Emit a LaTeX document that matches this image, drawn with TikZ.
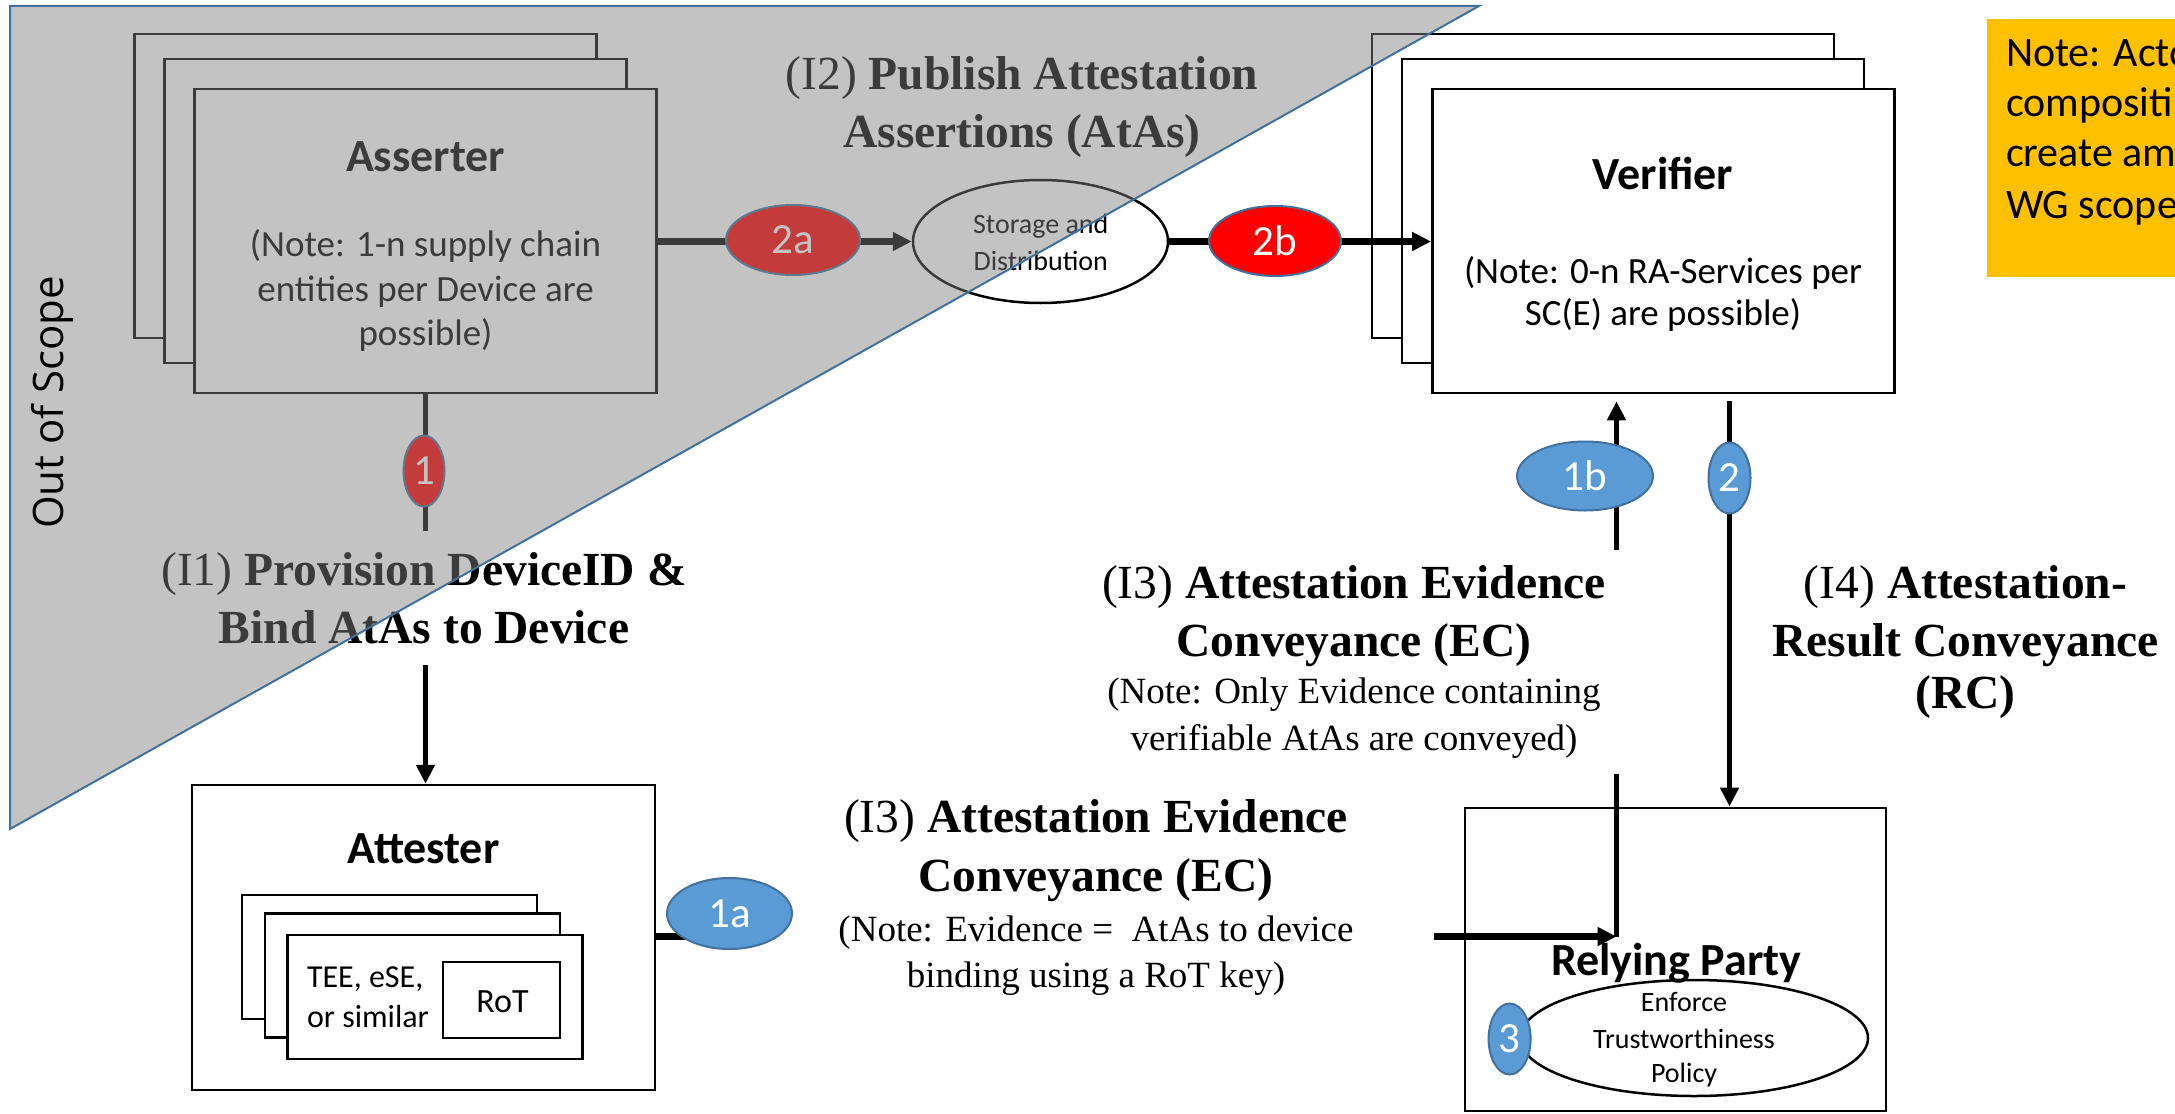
\documentclass[tikz,border=0pt]{standalone}
\usepackage{fontspec}
\setmainfont{Liberation Serif}
\newfontfamily\calfont{Carlito}
\newfontfamily\scopefont{Open Sans}
\usetikzlibrary{shapes.geometric,arrows.meta}
\definecolor{markblue}{HTML}{5B9BD5}
\definecolor{markedge}{HTML}{41719C}
\definecolor{markred}{HTML}{FF0000}
\definecolor{noteamber}{HTML}{FFC000}
\definecolor{scopeline}{HTML}{41719C}
\newcommand{\fsize}[2]{\fontsize{#1}{#2}\selectfont}

\tikzset{
  txt/.style={inner sep=0pt, outer sep=0pt},
  boxline/.style={draw=black, line width=2.5pt, fill=white, inner sep=0pt},
  stackbox/.style={boxline, minimum width=462pt, minimum height=304pt},
  teebox/.style={boxline, minimum width=295pt, minimum height=124pt},
  badge/.style={ellipse, draw=markedge, line width=2pt, text=white,
    font=\calfont\fsize{43}{50}, inner sep=0pt},
  bluebadge/.style={badge, fill=markblue},
  redbadge/.style={badge, fill=markred},
  boxtitle/.style={txt, font=\calfont\bfseries\fsize{46}{55}},
  boxnote/.style={txt, font=\calfont\fsize{37}{45}},
  smalltxt/.style={txt, font=\calfont\fsize{28}{36}},
  ambertxt/.style={txt, anchor=base west, font=\calfont\fsize{42}{50}},
  iface/.style={align=center, font=\fsize{47.5}{58.5}, inner sep=2pt},
  wire/.style={draw=black, line width=5.5pt},
  heavywire/.style={draw=black, line width=7pt},
  arrowtip/.style={-{Triangle[length=19pt,width=18pt]}},
}

\begin{document}
\begin{tikzpicture}[x=1pt,y=-1pt]
\clip (0,0) rectangle (2175,1113);
\fill[white] (0,0) rectangle (2175,1113);

% Asserter: stacked supply chain entities
\node[stackbox] (asrB) at (365.5,186) {};
\node[stackbox] (asrM) at (395.5,211) {};
\node[stackbox] (asrF) at (425.5,241) {};
\node[boxtitle, anchor=base] (asrT) at (425.5,171.4) {Asserter};
\node[boxnote, anchor=base] (asrN1) at (425.5,256.4) {(Note: 1-n supply chain};
\node[boxnote, anchor=base] (asrN2) at (425.5,301) {entities per Device are};
\node[boxnote, anchor=base] (asrN3) at (425.5,345.7) {possible)};

% Verifier: stacked RA services
\node[stackbox] (verB) at (1602.8,186) {};
\node[stackbox] (verM) at (1633,211) {};
\node[stackbox] (verF) at (1663.3,241) {};
\node[boxtitle, anchor=base] (verT) at (1663,189) {Verifier};
\node[boxnote, anchor=base] (verN1) at (1663,283) {(Note: 0-n RA-Services per};
\node[boxnote, anchor=base] (verN2) at (1663,325) {SC(E) are possible)};

% amber side note, running off the right edge
\node[fill=noteamber, anchor=north west, minimum width=250pt, minimum height=258pt, inner sep=0pt] (amber) at (1987,19) {};
\node[ambertxt] (amb1) at (2006,66.7) {Note: Acto};
\node[ambertxt] (amb2) at (2006,116.5) {compositi};
\node[ambertxt] (amb3) at (2006,166.5) {create am};
\node[ambertxt] (amb4) at (2006,218) {WG scope};

% storage and distribution
\node[ellipse, boxline, minimum width=255pt, minimum height=123pt] (stor) at (1040.5,241.5) {};

% Attester with TEE stack and RoT
\node[boxline, minimum width=463pt, minimum height=305pt] (att) at (423.5,937.5) {};
\node[teebox] (teeB) at (389.3,957.2) {};
\node[teebox] (teeM) at (412.5,975.6) {};
\node[teebox] (teeF) at (434.8,996.9) {};
\node[boxline, minimum width=117pt, minimum height=76pt] (rot) at (501.5,999.9) {};

% Relying Party with policy
\node[draw=black, line width=2pt, fill=white, inner sep=0pt, minimum width=421pt, minimum height=303.5pt] (rp) at (1675.7,959.3) {};
\node[ellipse, boxline, minimum width=348pt, minimum height=116pt] (pol) at (1694,1038) {};

% connectors
\coordinate (bend) at (1616.5,936.5);
\draw[wire, arrowtip] (asrF.south) -- (asrF.south |- att.north);
\draw[heavywire, arrowtip] (asrF.east |- stor.west) -- (stor.west);
\draw[heavywire, arrowtip] (stor.east) -- (stor.east -| verF.west);
\draw[heavywire, arrowtip] (att.east |- bend) -- (bend);
\draw[wire, arrowtip, shorten >=7pt] (bend) -- (bend |- verF.south);
\draw[wire, arrowtip, shorten <=7pt] ([xshift=66.2pt]verF.south) -- ([xshift=66.2pt]verF.south |- rp.north);

% interface labels
\node[iface, fill=white, minimum width=560pt, minimum height=134pt] (i1) at (424,598)
  {(I1) \textbf{Provision DeviceID \&}\\\textbf{Bind AtAs to Device}};
\node[iface] (i2) at (1022,107)
  {(I2) \textbf{Publish Attestation}\\\textbf{Assertions (AtAs)}};
\node[iface, fill=white, minimum width=540pt, minimum height=224pt] (i3a) at (1354,662)
  {(I3) \textbf{Attestation Evidence}\\\textbf{Conveyance (EC)}\\[-12pt]{\fsize{37}{47}(Note: Only Evidence containing}\\[-11pt]{\fsize{37}{47}verifiable AtAs are conveyed)}};
\node[iface, fill=white, minimum width=676pt, minimum height=200pt] (i3b) at (1096,897.5)
  {(I3) \textbf{Attestation Evidence}\\\textbf{Conveyance (EC)}\\[-8.7pt]{\fsize{37}{47}(Note: Evidence = \ AtAs to device}\\[-12.7pt]{\fsize{37}{47}binding using a RoT key)}};
\node[iface] (i4) at (1965.5,642)
  {(I4) \textbf{Attestation-}\\\textbf{Result Conveyance}\\[-7pt]\textbf{(RC)}};

% step badges
\node[redbadge, minimum width=41pt, minimum height=71pt] (m1) at (424,471) {1};
\node[redbadge, minimum width=134pt, minimum height=70pt] (m2a) at (793,240) {2a};
\node[redbadge, minimum width=132pt, minimum height=70pt] (m2b) at (1275,241) {2b};
\node[bluebadge, minimum width=125pt, minimum height=71pt] (m1a) at (729.5,913.5) {1a};
\node[bluebadge, minimum width=136pt, minimum height=69pt] (m1b) at (1585,476) {1b};
\node[bluebadge, minimum width=42pt, minimum height=71pt] (m2) at (1729.5,478) {2};

% texts inside shapes
\node[smalltxt, anchor=base] (stor1) at (1040.7,233) {Storage and};
\node[smalltxt, anchor=base] (stor2) at (1040.7,270) {Distribution};
\node[boxtitle, anchor=base] (attT) at (423.5,863.4) {Attester};
\node[txt, anchor=base, font=\calfont\fsize{34}{40}] (rotT) at (502.5,1012) {RoT};
\node[txt, anchor=base west, font=\calfont\fsize{32}{40}] (tee1) at (307,987.6) {TEE, eSE,};
\node[txt, anchor=base west, font=\calfont\fsize{32}{40}] (tee2) at (307,1027.8) {or similar};
\node[boxtitle, anchor=base] (rpT) at (1676,975) {Relying Party};
\node[smalltxt, anchor=base] (pol1) at (1684,1011.4) {Enforce};
\node[smalltxt, anchor=base] (pol2) at (1684,1048) {Trustworthiness};
\node[smalltxt, anchor=base] (pol3) at (1684,1082.7) {Policy};
\node[bluebadge, minimum width=42pt, minimum height=71pt] (m3) at (1509.6,1039) {3};

% out-of-scope region
\fill[black!50, fill opacity=0.467] (10,6) -- (1479,6) -- (10,829) -- cycle;
\draw[scopeline, line width=2pt] (10,6) -- (1479,6) -- (10,829) -- cycle;
\node[txt, rotate=90, anchor=base, font=\scopefont\fsize{42}{50}] (oos) at (63,402.5) {Out of Scope};
\end{tikzpicture}
\end{document}
